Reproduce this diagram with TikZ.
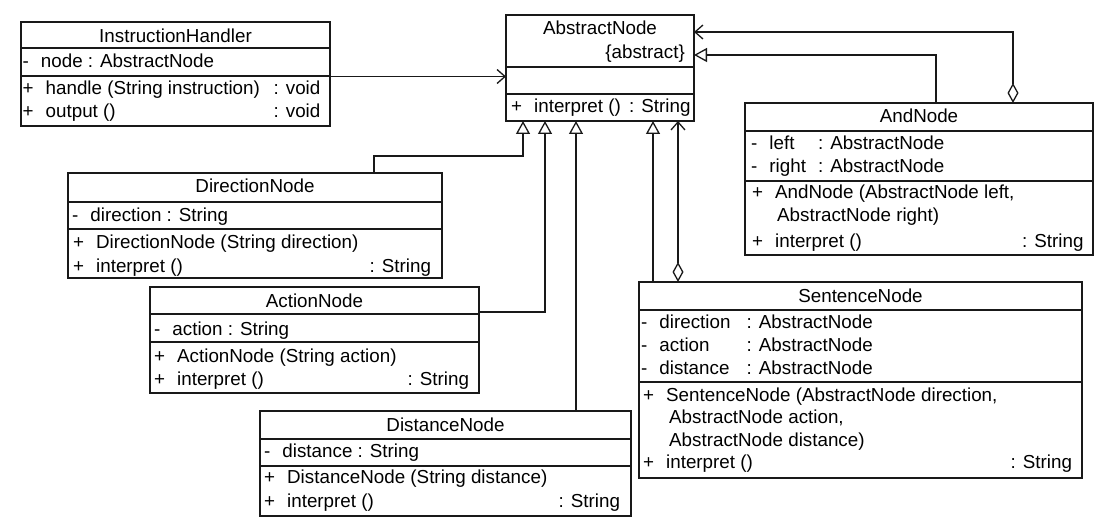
\documentclass[tikz,border=0pt]{standalone}
\usepackage{fontspec}
\setmainfont{Liberation Sans}
\usetikzlibrary{arrows.meta}
\tikzset{
  ln/.style={line width=1.3pt, draw=black!90},
  cls/.style={draw=black!90, line width=1.3pt, inner sep=0pt, outer sep=0pt},
  tx/.style={inner sep=0pt, anchor=base west, font=\fontsize{18.8}{22}\selectfont, text=black},
  tc/.style={tx, anchor=base},
  tr/.style={tx, anchor=base east},
  gen/.style={ln, -{Triangle[open, length=13pt, width=14pt, line width=1.3pt]}},
  assoc/.style={ln, -{Straight Barb[length=8pt, width=14pt, line width=1.3pt]}},
  agg/.style={ln, {Diamond[open, length=20pt, width=11pt, line width=1.3pt]}-{Straight Barb[length=8pt, width=14pt, line width=1.3pt]}}
}
\newcommand{\umlclass}[7]{%
  \node[cls, minimum width={(#4-#2)*1pt}, minimum height={(#5-#3)*1pt}, anchor=north west] (#1) at (#2,#3) {};
  \draw[ln] (#1.west |- 0,#6) -- (#1.east |- 0,#6);
  \draw[ln] (#1.west |- 0,#7) -- (#1.east |- 0,#7);
}
\newcommand{\pl}{+\hspace{12pt}}
\newcommand{\mi}{-\hspace{12pt}}
\begin{document}
\begin{tikzpicture}[x=1pt, y=-1pt]
\useasboundingbox (0,0) rectangle (1109,532);

% InstructionHandler
\umlclass{ih}{21}{22}{330}{126}{48}{76}
\node[tc] (ih-t) at (175.5,43) {InstructionHandler};
\node[tx] (ih-a1) at (22.5,68) {\mi node : AbstractNode};
\node[tx] (ih-m1) at (22.5,95) {\pl handle (String instruction)};
\node[tx] (ih-m1t) at (273.5,95) {: void};
\node[tx] (ih-m2) at (22.5,118) {\pl output ()};
\node[tx] (ih-m2t) at (273.5,118) {: void};

% AbstractNode
\umlclass{an}{506}{15}{694}{121}{67}{94}
\node[tc] (an-t) at (600,35) {AbstractNode};
\node[tr] (an-s) at (685,59) {\{abstract\}};
\node[tx] (an-m1) at (511,113) {\pl interpret ()};
\node[tx] (an-m1t) at (629,113) {: String};

% AndNode
\umlclass{and}{745}{103}{1093}{255}{131}{181}
\node[tc] (and-t) at (919,123) {AndNode};
\node[tx] (and-a1) at (751,150) {\mi left};
\node[tx] (and-a1t) at (818,150) {: AbstractNode};
\node[tx] (and-a2) at (751,172) {\mi right};
\node[tx] (and-a2t) at (818,172) {: AbstractNode};
\node[tx] (and-m1) at (752,199) {\pl AndNode (AbstractNode left,};
\node[tx] (and-m1b) at (777,222) {AbstractNode right)};
\node[tx] (and-m2) at (752,247) {\pl interpret ()};
\node[tx] (and-m2t) at (1022,247) {: String};

% DirectionNode
\umlclass{dir}{68}{173}{442}{278}{202}{229}
\node[tc] (dir-t) at (255,193) {DirectionNode};
\node[tx] (dir-a1) at (72,222) {\mi direction : String};
\node[tx] (dir-m1) at (73,248) {\pl DirectionNode (String direction)};
\node[tx] (dir-m2) at (73,272) {\pl interpret ()};
\node[tx] (dir-m2t) at (369.5,272) {: String};

% ActionNode
\umlclass{act}{150}{287}{479}{393}{314}{342}
\node[tc] (act-t) at (314.5,307) {ActionNode};
\node[tx] (act-a1) at (154,335) {\mi action : String};
\node[tx] (act-m1) at (154,362) {\pl ActionNode (String action)};
\node[tx] (act-m2) at (154,385) {\pl interpret ()};
\node[tx] (act-m2t) at (407.5,385) {: String};

% DistanceNode
\umlclass{dist}{260}{411}{631}{516}{439}{466}
\node[tc] (dist-t) at (445.5,431) {DistanceNode};
\node[tx] (dist-a1) at (264,457) {\mi distance : String};
\node[tx] (dist-m1) at (264,483) {\pl DistanceNode (String distance)};
\node[tx] (dist-m2) at (264,507) {\pl interpret ()};
\node[tx] (dist-m2t) at (558.5,507) {: String};

% SentenceNode
\umlclass{sen}{639}{282}{1082}{478}{310}{382}
\node[tc] (sen-t) at (860.5,302) {SentenceNode};
\node[tx] (sen-a1) at (641,328) {\mi direction};
\node[tx] (sen-a1t) at (746.5,328) {: AbstractNode};
\node[tx] (sen-a2) at (641,351) {\mi action};
\node[tx] (sen-a2t) at (746.5,351) {: AbstractNode};
\node[tx] (sen-a3) at (641,374) {\mi distance};
\node[tx] (sen-a3t) at (746.5,374) {: AbstractNode};
\node[tx] (sen-m1) at (643,401) {\pl SentenceNode (AbstractNode direction,};
\node[tx] (sen-m1b) at (669,423) {AbstractNode action,};
\node[tx] (sen-m1c) at (669,446) {AbstractNode distance)};
\node[tx] (sen-m2) at (643,468) {\pl interpret ()};
\node[tx] (sen-m2t) at (1010.5,468) {: String};

% connectors
\draw[assoc] (ih.east |- 0,76.5) -- (an.west |- 0,76.5);
\draw[gen] (and.north -| 936,0) |- (an.east |- 0,55);
\draw[agg] (and.north -| 1013,0) |- (an.east |- 0,32);
\draw[gen] (dir.north -| 374,0) |- (523,156) -- (an.south -| 523,0);
\draw[gen] (act.east |- 0,312) -| (an.south -| 545,0);
\draw[gen] (dist.north -| 576,0) -- (an.south -| 576,0);
\draw[gen] (sen.north -| 653,0) -- (an.south -| 653,0);
\draw[agg] (sen.north -| 678,0) -- (an.south -| 678,0);
\end{tikzpicture}
\end{document}
